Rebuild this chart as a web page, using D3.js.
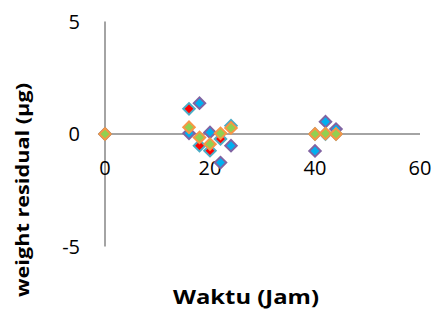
<!DOCTYPE html>
<html>
<head>
<meta charset="utf-8">
<script src="https://cdn.jsdelivr.net/npm/d3@7"></script>
<style>
  html, body { margin: 0; padding: 0; background: #fff; }
  svg { display: block; }
</style>
</head>
<body>
<svg id="chart" width="435" height="311"></svg>
<script>
// Data
const times   = [0, 16, 18, 20, 22, 24, 40, 42, 44];
const seriesA = [0, 0.03, 1.37, 0.07, -1.27, -0.52, -0.75, 0.55, 0.22];   // blue / purple
const seriesB = [0, 1.12, -0.52, -0.74, -0.22, 0.37, 0, 0, 0];            // red / teal
const seriesC = [0, 0.3, -0.15, -0.45, 0.03, 0.27, 0, 0.02, 0];           // green / orange
const xTicks = [0, 20, 40, 60];
const yTicks = [-5, 0, 5];
const xTitle = "Waktu (Jam)";
const yTitle = "weight residual (µg)";

const series = [
  { values: seriesA, fill: "#00B0F0", stroke: "#8064A2" },
  { values: seriesB, fill: "#FF0000", stroke: "#4BACC6" },
  { values: seriesC, fill: "#92D050", stroke: "#F79646" }
];

const svg = d3.select("#chart");
const font = "'Open Sans', 'Liberation Sans', sans-serif";

const x = d3.scaleLinear().domain([0, 60]).range([105, 420]);
const y = d3.scaleLinear().domain([-5, 5]).range([246.5, 21.5]);

const axisColor = "#868686";

// Y axis line
svg.append("line")
  .attr("x1", x(0)).attr("x2", x(0))
  .attr("y1", y(5)).attr("y2", y(-5))
  .attr("stroke", axisColor).attr("stroke-width", 1.5);

// X axis line at y=0
svg.append("line")
  .attr("x1", x(0)).attr("x2", x(60))
  .attr("y1", y(0)).attr("y2", y(0))
  .attr("stroke", axisColor).attr("stroke-width", 1.5);

// Y tick labels
svg.selectAll(".ytick").data(yTicks).enter().append("text")
  .attr("x", 80).attr("y", d => y(d))
  .attr("dy", "0.36em")
  .attr("text-anchor", "end")
  .attr("font-family", font).attr("font-size", 20)
  .attr("fill", "#000")
  .text(d => d);

// X tick labels
svg.selectAll(".xtick").data(xTicks).enter().append("text")
  .attr("x", d => x(d)).attr("y", 168)
  .attr("dy", "0.36em")
  .attr("text-anchor", "middle")
  .attr("font-family", font).attr("font-size", 20)
  .attr("fill", "#000")
  .text(d => d);

// Markers
series.forEach(s => {
  svg.append("g").selectAll("path")
    .data(times.map((t, i) => [t, s.values[i]]))
    .enter().append("path")
    .attr("d", d3.symbol().type(d3.symbolSquare).size(66))
    .attr("transform", d => `translate(${x(d[0])},${y(d[1])}) rotate(45)`)
    .attr("fill", s.fill)
    .attr("stroke", s.stroke)
    .attr("stroke-width", 2);
});

// Axis titles
svg.append("text")
  .attr("x", 246).attr("y", 304)
  .attr("text-anchor", "middle")
  .attr("font-family", font).attr("font-size", 19).attr("font-weight", "bold")
  .attr("textLength", 146).attr("lengthAdjust", "spacingAndGlyphs")
  .text(xTitle);

svg.append("text")
  .attr("transform", "translate(29,190) rotate(-90)")
  .attr("text-anchor", "middle")
  .attr("font-family", font).attr("font-size", 18).attr("font-weight", "bold")
  .attr("textLength", 214).attr("lengthAdjust", "spacingAndGlyphs")
  .text(yTitle);
</script>
</body>
</html>
